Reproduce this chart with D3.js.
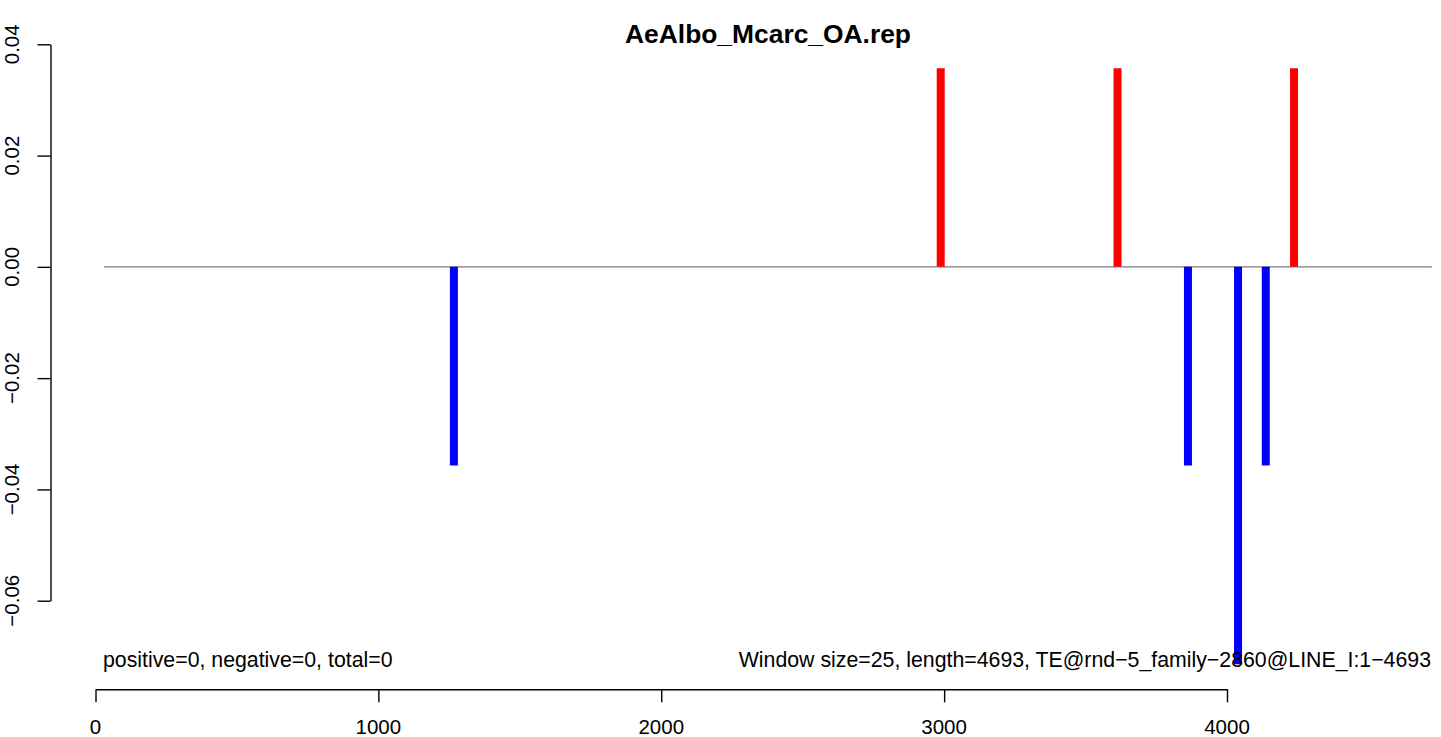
<!DOCTYPE html>
<html>
<head>
<meta charset="utf-8">
<script src="https://cdn.jsdelivr.net/npm/d3@7"></script>
<style>
  html, body { margin: 0; padding: 0; background: #fff; }
  svg { display: block; font-family: "Liberation Sans", Arial, Helvetica, sans-serif; }
</style>
</head>
<body>
<svg id="chart" width="1441" height="737"></svg>
<script>
// ---- data ----
const title = "AeAlbo_Mcarc_OA.rep";
const posPositions = [2988, 3613, 4237];
const posValues = [0.0357, 0.0357, 0.0357];
const negPositions = [1267, 3862, 4039, 4137];
const negValues = [-0.0357, -0.0357, -0.0714, -0.0357];
const xTicks = [0, 1000, 2000, 3000, 4000];
const yTicks = [-0.06, -0.04, -0.02, 0.00, 0.02, 0.04];
const baselineRange = [30, 4724];
const leftNote = "positive=0, negative=0, total=0";
const rightNote = "Window size=25, length=4693, TE@rnd\u22125_family\u22122860@LINE_I:1\u22124693";

// ---- scales ----
const x = d3.scaleLinear().domain([0, 4000]).range([95.5, 1227]);
const y = d3.scaleLinear().domain([-0.06, 0.04]).range([600.7, 44.3]);

const svg = d3.select("#chart");

// baseline
svg.append("line")
  .attr("x1", x(baselineRange[0])).attr("x2", x(baselineRange[1]))
  .attr("y1", y(0)).attr("y2", y(0))
  .attr("stroke", "#7a7a7a").attr("stroke-width", 1.2);

// bars
const bars = posPositions.map((p, i) => ({p, v: posValues[i], c: "#ff0000"}))
  .concat(negPositions.map((p, i) => ({p, v: negValues[i], c: "#0000ff"})));
svg.append("g").selectAll("line").data(bars).join("line")
  .attr("x1", d => x(d.p)).attr("x2", d => x(d.p))
  .attr("y1", y(0)).attr("y2", d => y(d.v))
  .attr("stroke", d => d.c).attr("stroke-width", 8).attr("stroke-linecap", "butt");

// text notes
svg.append("text").attr("x", 103).attr("y", 667)
  .attr("font-size", 21.3).attr("fill", "#000").text(leftNote);
svg.append("text").attr("x", 1431).attr("y", 667)
  .attr("font-size", 21.3).attr("text-anchor", "end").attr("fill", "#000").text(rightNote);

// y axis
const yAxis = d3.axisLeft(y).tickValues(yTicks).tickSize(13).tickSizeOuter(0).tickFormat("");
const gy = svg.append("g").attr("transform", "translate(50.5,0)").call(yAxis);
gy.selectAll("path, line").attr("stroke", "#000").attr("stroke-width", 1.4);
svg.append("g").selectAll("text").data(yTicks).join("text")
  .attr("transform", d => `translate(19,${y(d)}) rotate(-90)`)
  .attr("text-anchor", "middle")
  .attr("font-size", 20.5)
  .text(d => d3.format(".2f")(d));

// x axis
const xAxis = d3.axisBottom(x).tickValues(xTicks).tickSize(13).tickSizeOuter(0).tickFormat("");
const gx = svg.append("g").attr("transform", "translate(0,689.3)").call(xAxis);
gx.selectAll("path, line").attr("stroke", "#000").attr("stroke-width", 1.4);
svg.append("g").selectAll("text").data(xTicks).join("text")
  .attr("x", d => x(d)).attr("y", 734)
  .attr("text-anchor", "middle")
  .attr("font-size", 20.5)
  .text(d => d3.format("d")(d));

// title
svg.append("text").attr("x", 768).attr("y", 43)
  .attr("text-anchor", "middle").attr("font-size", 26.4).attr("font-weight", "bold")
  .text(title);
</script>
</body>
</html>
